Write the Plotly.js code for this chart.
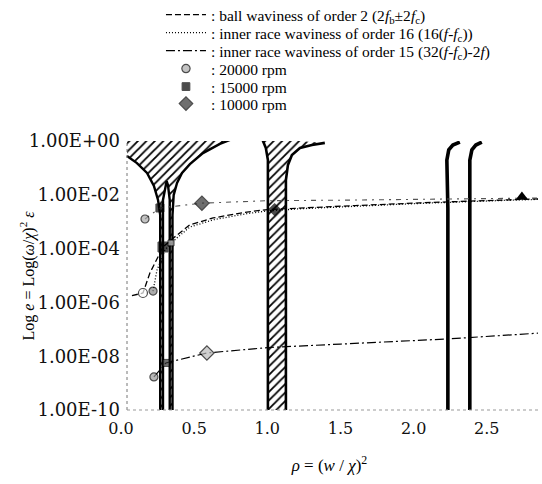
<!DOCTYPE html>
<html>
<head>
<meta charset="utf-8">
<script src="https://cdn.plot.ly/plotly-3.0.1.min.js"></script>
<style>html,body{margin:0;padding:0;background:#fff;}#chart{width:542px;height:484px;}</style>
</head>
<body>
<div id="chart"></div>
<script>
// ---------- data (x = rho, y = log10 of e) ----------
// ball waviness of order 2 (dashed)
const ballRho = [0.075, 0.15, 0.198, 0.287, 0.36, 0.47, 0.63, 0.86, 1.0, 1.22, 1.6, 2.04, 2.5, 2.85];
const ballLog = [-5.75, -5.65, -4.9, -3.94, -3.6, -3.12, -2.86, -2.64, -2.55, -2.49, -2.4, -2.3, -2.21, -2.15];
// inner race waviness of order 16 (dotted)
const in16Rho = [0.219, 0.246, 0.30, 0.342, 0.47, 0.63, 0.86, 1.0, 1.22, 1.6, 2.04, 2.5, 2.85];
const in16Log = [-5.58, -4.8, -4.05, -3.79, -3.2, -2.93, -2.7, -2.6, -2.52, -2.42, -2.32, -2.23, -2.17];
// inner race waviness of order 15 (dash-dot), upper and lower branches
const in15UpRho = [0.164, 0.266, 0.553, 1.0, 1.5, 2.0, 2.5, 2.85];
const in15UpLog = [-2.90, -2.49, -2.31, -2.22, -2.2, -2.18, -2.15, -2.12];
const in15LoRho = [0.225, 0.307, 0.587, 1.0, 1.5, 2.23, 2.86];
const in15LoLog = [-8.77, -8.25, -7.88, -7.68, -7.55, -7.36, -7.14];
// speed markers
const rpm20Rho = [0.164, 0.15, 0.219, 0.225];
const rpm20Log = [-2.90, -5.65, -5.58, -8.77];
const rpm15Rho = [0.266, 0.287, 0.342, 0.307];
const rpm15Log = [-2.49, -3.94, -3.79, -8.25];
const rpm10Rho = [0.553, 1.05, 0.587];
const rpm10Log = [-2.31, -2.55, -7.88];
const triRho = [2.74];
const triLog = [-2.08];
// instability regions (boundaries)
const vRho = [0.041, 0.109, 0.178, 0.225, 0.253, 0.268, 0.268, 0.287, 0.287, 0.303, 0.312, 0.321, 0.333, 0.333, 0.352, 0.352, 0.36, 0.383, 0.417, 0.471, 0.56, 0.676, 0.758];
const vLog = [-0.56, -0.82, -1.19, -1.67, -2.19, -2.75, -10.5, -10.5, -2.19, -1.64, -1.49, -1.64, -2.19, -10.5, -10.5, -2.75, -2.01, -1.56, -1.19, -0.86, -0.45, -0.11, 0.07];
const bRho = [0.963, 0.99, 1.004, 1.004, 1.127, 1.127, 1.141, 1.168, 1.223, 1.305, 1.393];
const bLog = [0.1, -0.26, -0.71, -10.5, -10.5, -1.45, -0.89, -0.52, -0.26, -0.15, -0.07];
const cRho = [2.234, 2.234, 2.227, 2.24, 2.268, 2.316];
const cLog = [-10.5, -2.5, -0.71, -0.33, -0.15, -0.04];
const dRho = [2.384, 2.384, 2.398, 2.425, 2.466];
const dLog = [-10.5, -0.71, -0.33, -0.15, -0.04];
// axis ticks
const xTicks = [0, 0.5, 1.0, 1.5, 2.0, 2.5];
const xTickText = ['0.0', '0.5', '1.0', '1.5', '2.0', '2.5'];
const yTickExp = [0, -2, -4, -6, -8, -10];
const yTickText = ['1.00E+00', '1.00E-02', '1.00E-04', '1.00E-06', '1.00E-08', '1.00E-10'];
const yTitle = 'Log <i>e</i> = Log(<i>ω</i>/<i>χ</i>)<sup>2</sup> <i>ε</i>';
const xTitle = '<i>ρ</i> = (<i>w</i> / <i>χ</i>)<sup>2</sup>';
const axisLeft = 0.041;

const p = a => a.map(v => Math.pow(10, v));
const hatch = {shape: '/', fgcolor: '#000', bgcolor: 'rgba(255,255,255,0)', size: 6, solidity: 0.3};

const traces = [
  // hatched fills
  {x: vRho.concat([vRho[vRho.length-1], axisLeft]), y: p(vLog.concat([0.5, 0.5])), mode: 'lines', fill: 'toself',
   fillcolor: 'rgba(255,255,255,0)', fillpattern: hatch, line: {width: 0, color: 'rgba(0,0,0,0)'}, showlegend: false, hoverinfo: 'skip'},
  {x: bRho, y: p(bLog), mode: 'lines', fill: 'toself', fillcolor: 'rgba(255,255,255,0)', fillpattern: hatch,
   line: {width: 0, color: 'rgba(0,0,0,0)'}, showlegend: false, hoverinfo: 'skip'},
  // boundaries
  {x: vRho, y: p(vLog), mode: 'lines', line: {color: '#000', width: 2.4}, showlegend: false, hoverinfo: 'skip'},
  {x: bRho, y: p(bLog), mode: 'lines', line: {color: '#000', width: 2.6}, showlegend: false, hoverinfo: 'skip'},
  {x: cRho, y: p(cLog), mode: 'lines', line: {color: '#000', width: 3.6}, showlegend: false, hoverinfo: 'skip'},
  {x: dRho, y: p(dLog), mode: 'lines', line: {color: '#000', width: 3.6}, showlegend: false, hoverinfo: 'skip'},
  // curves
  {x: ballRho, y: p(ballLog), mode: 'lines', line: {color: '#000', width: 1.3, dash: '6px,3px'}, legend: 'legend',
   name: ': ball waviness of order 2 (2<i>f</i><sub>b</sub>±2<i>f</i><sub>c</sub>)'},
  {x: in16Rho, y: p(in16Log), mode: 'lines', line: {color: '#000', width: 1.3, dash: '1px,2px'}, legend: 'legend2',
   name: ': inner race waviness of order 16 (16(<i>f</i>-<i>f</i><sub>c</sub>))'},
  {x: in15LoRho, y: p(in15LoLog), mode: 'lines', line: {color: '#000', width: 1.2, dash: '9px,3px,2px,3px'}, legend: 'legend3',
   name: ': inner race waviness of order 15 (32(<i>f</i>-<i>f</i><sub>c</sub>)-2<i>f</i>)'},
  {x: in15UpRho, y: p(in15UpLog), mode: 'lines', line: {color: '#555', width: 1.1, dash: '5px,5px,2px,5px'},
   showlegend: false},
  // markers
  {x: rpm20Rho, y: p(rpm20Log), mode: 'markers', name: ': 20000 rpm', legend: 'legend4',
   marker: {symbol: 'circle', size: [8, 9, 8, 8], color: ['#aaa', '#fff', '#888', '#999'], line: {color: '#000', width: 1.2}}},
  {x: rpm15Rho, y: p(rpm15Log), mode: 'markers', name: ': 15000 rpm', legend: 'legend5',
   marker: {symbol: 'square', size: [8, 10, 6, 7], color: ['#000', '#000', '#ccc', '#333'], line: {color: '#000', width: 1}}},
  {x: rpm10Rho, y: p(rpm10Log), mode: 'markers', name: ': 10000 rpm', legend: 'legend6',
   marker: {symbol: 'diamond', size: [11, 9, 11], color: ['#333', '#000', '#bbb'], line: {color: '#000', width: 1.2}}},
  {x: triRho, y: p(triLog), mode: 'markers', showlegend: false,
   marker: {symbol: 'triangle-up', size: 11, color: '#000'}}
];

const legendRows = [15, 33, 51, 69, 87, 104];
function mkLegend(row) {
  return {xref: 'container', yref: 'container', x: 0.297, y: 1 - row / 484, xanchor: 'left', yanchor: 'middle',
          font: {family: 'Liberation Serif', size: 15.5, color: '#000'}, bgcolor: 'rgba(0,0,0,0)',
          itemwidth: 40, borderwidth: 0};
}

const layout = {
  width: 542, height: 484,
  margin: {l: 121, r: 4, t: 141, b: 74, pad: 0, autoexpand: false},
  paper_bgcolor: '#fff', plot_bgcolor: '#fff',
  showlegend: true,
  legend: mkLegend(legendRows[0]),
  legend2: mkLegend(legendRows[1]),
  legend3: mkLegend(legendRows[2]),
  legend4: mkLegend(legendRows[3]),
  legend5: mkLegend(legendRows[4]),
  legend6: mkLegend(legendRows[5]),
  xaxis: {range: [0, 2.85], tickvals: xTicks, ticktext: xTickText, showgrid: false, zeroline: false, showline: false,
          ticks: '', ticklabelstandoff: 7, tickfont: {family: 'DejaVu Serif', size: 16, color: '#111'},
          title: {text: xTitle, font: {family: 'Liberation Serif', size: 17, color: '#000'}}},
  yaxis: {type: 'log', range: [-10, 0], tickvals: p(yTickExp), ticktext: yTickText, showgrid: false, zeroline: false,
          showline: false, ticks: '', tickfont: {family: 'DejaVu Serif', size: 18, color: '#111'}},
  annotations: [
    {text: yTitle, xref: 'paper', yref: 'paper', x: -0.223, y: 0.5, xanchor: 'center', yanchor: 'middle',
     textangle: -90, showarrow: false, font: {family: 'Liberation Serif', size: 16, color: '#000'}}
  ],
  shapes: [
    {type: 'line', xref: 'x', yref: 'paper', x0: axisLeft, x1: axisLeft, y0: 0, y1: 1, line: {color: '#777', width: 1, dash: 'dot'}},
    {type: 'line', xref: 'x', yref: 'paper', x0: axisLeft, x1: 2.85, y0: 0, y1: 0, line: {color: '#999', width: 1, dash: 'dot'}}
  ]
};

Plotly.newPlot('chart', traces, layout, {displayModeBar: false, staticPlot: true});
</script>
</body>
</html>
